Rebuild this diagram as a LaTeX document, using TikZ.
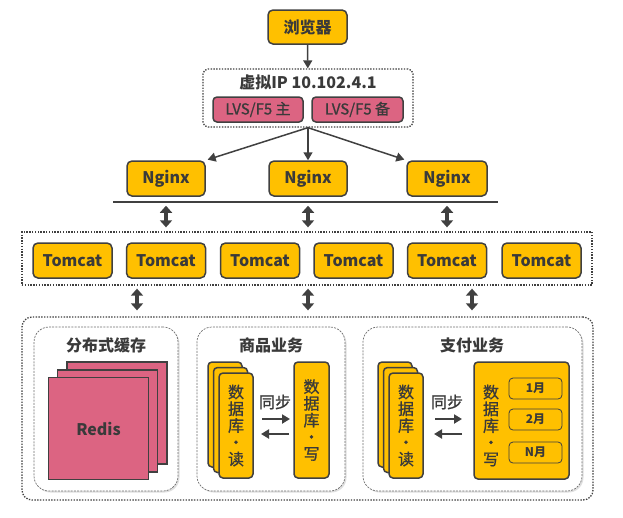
\documentclass[tikz,border=0pt]{standalone}
\usepackage{fontspec}
\setmainfont{Noto Sans CJK SC}
\newfontfamily\medfont[FakeBold=1.0]{Noto Sans CJK SC}
\usetikzlibrary{arrows.meta,shadows,calc}
\definecolor{org}{HTML}{FFC000}
\definecolor{pnk}{HTML}{DC6482}
\definecolor{dk}{HTML}{404040}
\definecolor{txt}{HTML}{3A3A3A}
\definecolor{sub}{HTML}{6E6E6E}
\begin{document}
\begin{tikzpicture}[x=1pt,y=-1pt,
  box/.style={draw=dk, line width=1.5pt, fill=org, rounded corners=5pt, inner sep=0pt, text=txt, font=\bfseries\fontsize{16}{18}\selectfont},
  pbox/.style={draw=dk, line width=1.5pt, fill=pnk, rounded corners=4pt, inner sep=0pt, text=txt, font=\medfont\fontsize{15}{17}\selectfont},
  sheet/.style={draw=dk, line width=1.5pt, fill=pnk, inner sep=0pt, minimum width=100pt, minimum height=102pt, text=txt, font=\bfseries\fontsize{16}{18}\selectfont},
  dbsheet/.style={draw=dk, line width=1.5pt, fill=org, rounded corners=4pt, inner sep=0pt, minimum width=34pt, minimum height=105pt, text=txt, align=center, font=\medfont\fontsize{16}{16.75}\selectfont},
  month/.style={draw=dk, line width=0.8pt, fill=org, rounded corners=4pt, inner sep=0pt, minimum width=53pt, minimum height=21pt, text=txt, font=\bfseries\fontsize{12}{14}\selectfont},
  frame/.style={draw=dk, line width=1.3pt, dash pattern=on 1.4pt off 1.4pt, inner sep=0pt},
  subframe/.style={draw=sub, line width=0.7pt, dash pattern=on 2pt off 1.2pt, rounded corners=15pt, fill=white, inner sep=0pt,
     drop shadow={shadow xshift=1.5pt, shadow yshift=-1.5pt, opacity=0.25, fill=gray}},
  lbl/.style={text=txt, inner sep=0pt, font=\bfseries\fontsize{16}{18}\selectfont},
  arr/.style={draw=dk, line width=1.5pt, -{Triangle[length=8pt,width=9pt]}},
  dbl/.style={draw=dk, line width=4pt, {Triangle[length=7pt,width=12pt]}-{Triangle[length=7pt,width=12pt]}},
  sync/.style={draw=dk, line width=2pt, -{Triangle[length=8pt,width=9pt]}}
]
\useasboundingbox (0,0) rectangle (623,517);

% browser
\node[box, minimum width=79pt, minimum height=34pt] (browser) at (307.5,27) {浏览器};

% VIP
\node[frame, rounded corners=5pt, minimum width=210pt, minimum height=58pt] (vip) at (308,98) {};
\node[lbl] (viplbl) at (308,82) {虚拟IP 10.102.4.1};
\node[pbox, minimum width=90pt, minimum height=25pt] (lvs1) at (258,109.5) {LVS/F5 主};
\node[pbox, minimum width=91pt, minimum height=25pt] (lvs2) at (357.5,109.5) {LVS/F5 备};
\draw[arr] (browser) -- (vip);

% Nginx
\node[box, minimum width=78pt, minimum height=35pt] (ng1) at (166,178.5) {Nginx};
\node[box, minimum width=78pt, minimum height=35pt] (ng2) at (308,178.5) {Nginx};
\node[box, minimum width=80pt, minimum height=35pt] (ng3) at (447,178.5) {Nginx};
\draw[arr, shorten >=2pt] (vip.south) -- (ng1.north east);
\draw[arr] (vip.south) -- (ng2.north);
\draw[arr, shorten >=2pt] (vip.south) -- (ng3.north west);

% bus line
\coordinate (busl) at (113,202);
\coordinate (busr) at (498,202);
\draw[draw=dk, line width=1.5pt] (busl) -- (busr);

% Tomcat frame
\node[frame, minimum width=570pt, minimum height=53pt] (tomframe) at (307,258.5) {};
\foreach \i/\x in {1/72.5,2/166,3/260,4/353.5,5/447,6/541.5}{
  \node[box, minimum width=79pt, minimum height=35pt] (tc\i) at (\x,260.5) {Tomcat};
}
\draw[dbl] ($(ng1.south)+(0,9)$) -- ($(ng1.south |- tomframe.north)+(0,-4)$);
\draw[dbl] ($(ng2.south)+(0,9)$) -- ($(ng2.south |- tomframe.north)+(0,-4)$);
\draw[dbl] ($(ng3.south)+(0,9)$) -- ($(ng3.south |- tomframe.north)+(0,-4)$);

% bottom frame
\node[frame, rounded corners=10pt, minimum width=571pt, minimum height=183pt] (botframe) at (307.5,408.5) {};
\coordinate (b1) at (137,300);
\coordinate (b2) at (308,300);
\coordinate (b3) at (472,300);
\foreach \b in {b1,b2,b3}{
  \draw[dbl] ($(tomframe.south -| \b)+(0,3)$) -- ($(botframe.north -| \b)+(0,-6)$);
}

% sub frames
\node[subframe, minimum width=144pt, minimum height=164pt] (cache) at (106,409) {};
\node[subframe, minimum width=148pt, minimum height=164pt] (goods) at (271,409) {};
\node[subframe, minimum width=219pt, minimum height=164pt] (pay) at (472.5,409) {};
\node[lbl] (cachet) at (106,345) {分布式缓存};
\node[lbl] (goodst) at (271,345) {商品业务};
\node[lbl] (payt) at (472,345) {支付业务};

% Redis
\node[sheet] (rs3) at (117,413) {};
\node[sheet] (rs2) at (107.5,421) {};
\node[sheet] (redis) at (98.5,428.5) {Redis};

% goods DB
\node[dbsheet] (gr3) at (225,414.5) {};
\node[dbsheet] (gr2) at (230.5,420) {};
\node[dbsheet] (gread) at (236,425.5) {数\\据\\库\\·\\读};
\node[dbsheet, minimum width=35pt, minimum height=116pt] (gwrite) at (311.5,420) {数\\据\\库\\·\\写};
\node[inner sep=0pt, text=txt, font=\medfont\fontsize{16}{18}\selectfont] (gsync) at (275,402) {同步};
\coordinate (gs1) at (262,419);
\coordinate (gs2) at (290,419);
\coordinate (gs3) at (289,434);
\coordinate (gs4) at (261,434);
\draw[sync] (gs1) -- (gs2);
\draw[sync] (gs3) -- (gs4);

% pay DB
\node[dbsheet] (pr3) at (395,414.5) {};
\node[dbsheet] (pr2) at (400.5,420) {};
\node[dbsheet] (pread) at (406,425.5) {数\\据\\库\\·\\读};
\node[dbsheet, minimum width=95pt, minimum height=117pt] (pwrite) at (521.5,420.5) {};
\node[inner sep=0pt, text=txt, align=center, font=\medfont\fontsize{16}{16.75}\selectfont] (pwlbl) at (491,425.5) {数\\据\\库\\·\\写};
\node[month] (m1) at (535.5,388.5) {1月};
\node[month] (m2) at (535.5,419.5) {2月};
\node[month] (m3) at (535.5,452.5) {N月};
\node[inner sep=0pt, text=txt, font=\medfont\fontsize{16}{18}\selectfont] (psync) at (447,402) {同步};
\coordinate (ps1) at (435,419);
\coordinate (ps2) at (462,419);
\coordinate (ps3) at (462,434);
\coordinate (ps4) at (434,434);
\draw[sync] (ps1) -- (ps2);
\draw[sync] (ps3) -- (ps4);
\end{tikzpicture}
\end{document}
